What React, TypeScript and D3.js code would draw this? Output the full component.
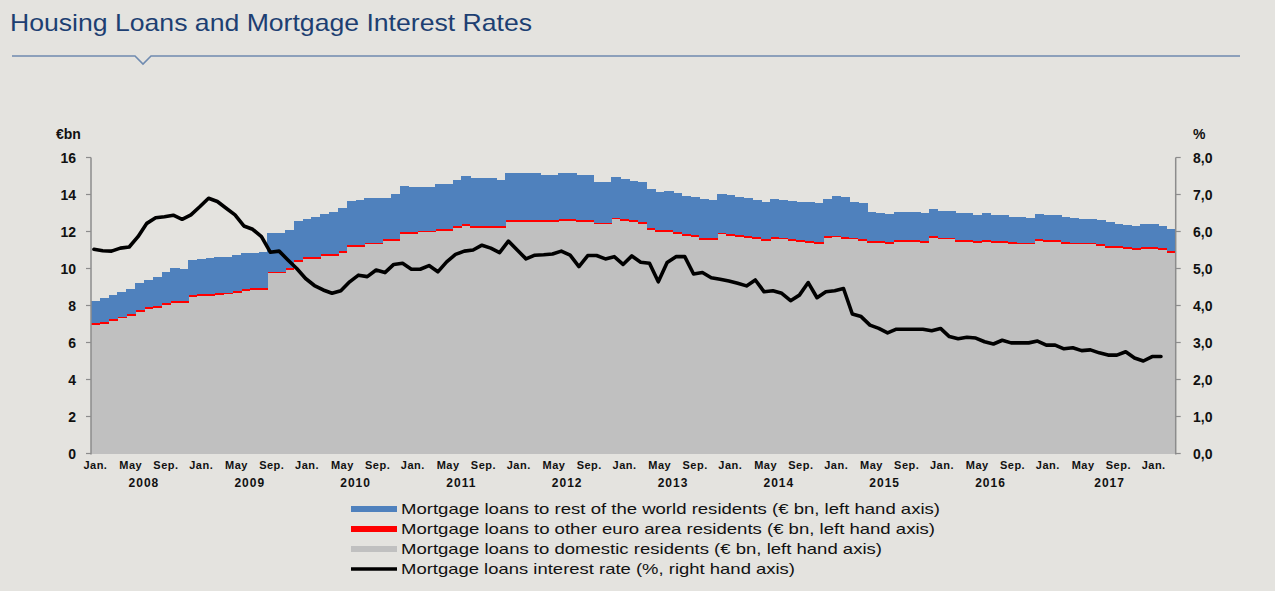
import React from 'react';
import * as d3 from 'd3';

// Monthly data, Jan 2008 – Mar 2018 (€bn)
const domestic = [
  6.97, 7.02, 7.15, 7.30, 7.44, 7.66, 7.80, 7.89, 8.02, 8.13,
  8.13, 8.47, 8.50, 8.53, 8.57, 8.60, 8.70, 8.77, 8.82, 8.86,
  9.73, 9.73, 9.91, 10.36, 10.50, 10.50, 10.67, 10.67, 10.85, 11.17,
  11.17, 11.30, 11.30, 11.48, 11.48, 11.89, 11.89, 11.95, 11.95, 12.02,
  12.02, 12.20, 12.29, 12.20, 12.20, 12.20, 12.20, 12.52, 12.52, 12.52,
  12.52, 12.52, 12.52, 12.58, 12.58, 12.52, 12.52, 12.38, 12.38, 12.65,
  12.58, 12.52, 12.43, 12.07, 11.98, 11.98, 11.89, 11.76, 11.71, 11.53,
  11.53, 11.84, 11.76, 11.71, 11.66, 11.60, 11.50, 11.62, 11.57, 11.50,
  11.45, 11.40, 11.31, 11.66, 11.68, 11.62, 11.57, 11.50, 11.40, 11.40,
  11.33, 11.44, 11.44, 11.44, 11.38, 11.64, 11.57, 11.57, 11.44, 11.44,
  11.38, 11.44, 11.38, 11.38, 11.33, 11.30, 11.30, 11.48, 11.44, 11.44,
  11.35, 11.30, 11.30, 11.30, 11.22, 11.12, 11.12, 11.04, 10.99, 11.04,
  11.04, 10.99, 10.85,
];

const otherEuro = [
  0.10, 0.10, 0.10, 0.10, 0.10, 0.12, 0.10, 0.10, 0.10, 0.10,
  0.10, 0.10, 0.10, 0.10, 0.10, 0.10, 0.10, 0.10, 0.10, 0.10,
  0.10, 0.10, 0.10, 0.10, 0.10, 0.10, 0.10, 0.10, 0.10, 0.12,
  0.10, 0.10, 0.10, 0.10, 0.10, 0.10, 0.10, 0.10, 0.10, 0.10,
  0.10, 0.10, 0.10, 0.10, 0.10, 0.10, 0.10, 0.10, 0.10, 0.10,
  0.10, 0.10, 0.10, 0.10, 0.10, 0.10, 0.10, 0.10, 0.10, 0.10,
  0.10, 0.10, 0.10, 0.10, 0.10, 0.10, 0.10, 0.10, 0.10, 0.12,
  0.12, 0.10, 0.10, 0.10, 0.10, 0.10, 0.10, 0.10, 0.10, 0.10,
  0.10, 0.10, 0.12, 0.10, 0.10, 0.10, 0.10, 0.10, 0.10, 0.10,
  0.10, 0.10, 0.10, 0.10, 0.10, 0.10, 0.10, 0.10, 0.10, 0.10,
  0.10, 0.10, 0.10, 0.10, 0.10, 0.10, 0.10, 0.10, 0.10, 0.10,
  0.10, 0.10, 0.10, 0.10, 0.10, 0.10, 0.10, 0.10, 0.10, 0.10,
  0.10, 0.10, 0.12,
];

const restOfWorld = [
  1.19, 1.30, 1.32, 1.35, 1.35, 1.44, 1.48, 1.57, 1.67, 1.81,
  1.76, 1.89, 1.90, 1.92, 1.93, 1.94, 1.93, 1.95, 1.94, 1.95,
  2.11, 2.11, 2.07, 2.11, 2.08, 2.17, 2.18, 2.30, 2.30, 2.34,
  2.43, 2.43, 2.43, 2.25, 2.45, 2.47, 2.42, 2.36, 2.36, 2.45,
  2.45, 2.48, 2.61, 2.58, 2.58, 2.58, 2.48, 2.52, 2.52, 2.52,
  2.52, 2.43, 2.43, 2.46, 2.46, 2.43, 2.43, 2.18, 2.18, 2.18,
  2.14, 2.13, 2.13, 2.11, 2.07, 2.12, 2.07, 2.08, 2.07, 2.13,
  2.04, 2.09, 2.14, 2.07, 2.07, 2.00, 2.01, 2.04, 2.03, 2.07,
  2.06, 2.08, 2.11, 2.00, 2.16, 2.13, 1.91, 1.92, 1.57, 1.52,
  1.52, 1.50, 1.50, 1.50, 1.51, 1.48, 1.44, 1.44, 1.44, 1.44,
  1.41, 1.45, 1.41, 1.41, 1.37, 1.40, 1.35, 1.37, 1.34, 1.34,
  1.35, 1.31, 1.28, 1.28, 1.30, 1.28, 1.21, 1.21, 1.21, 1.25,
  1.25, 1.23, 1.17,
];

// Interest rate (%), Jan 2008 – Feb 2018
const interestRate = [
  5.52, 5.48, 5.47, 5.55, 5.58, 5.86, 6.22, 6.37, 6.40, 6.44,
  6.33, 6.45, 6.67, 6.90, 6.81, 6.63, 6.45, 6.15, 6.06, 5.86,
  5.44, 5.47, 5.23, 5.00, 4.73, 4.54, 4.42, 4.33, 4.40, 4.64,
  4.82, 4.78, 4.96, 4.89, 5.11, 5.14, 4.98, 4.98, 5.08, 4.91,
  5.18, 5.38, 5.47, 5.50, 5.63, 5.55, 5.43, 5.74, 5.50, 5.26,
  5.36, 5.37, 5.39, 5.47, 5.36, 5.05, 5.35, 5.35, 5.26, 5.32,
  5.11, 5.34, 5.17, 5.14, 4.64, 5.16, 5.32, 5.32, 4.85, 4.89,
  4.75, 4.71, 4.66, 4.60, 4.53, 4.69, 4.37, 4.40, 4.33, 4.13,
  4.28, 4.62, 4.21, 4.37, 4.40, 4.46, 3.77, 3.70, 3.47, 3.38,
  3.26, 3.36, 3.36, 3.36, 3.36, 3.32, 3.38, 3.16, 3.10, 3.14,
  3.12, 3.02, 2.96, 3.06, 2.99, 2.99, 2.99, 3.04, 2.93, 2.93,
  2.83, 2.86, 2.78, 2.80, 2.72, 2.66, 2.66, 2.75, 2.58, 2.50,
  2.62, 2.62,
];

const leftTicks = [0, 2, 4, 6, 8, 10, 12, 14, 16];
const rightTicks = [0, 1, 2, 3, 4, 5, 6, 7, 8];
const monthTickNames: Record<number, string> = { 0: 'Jan.', 4: 'May', 8: 'Sep.' };
const years = [2008, 2009, 2010, 2011, 2012, 2013, 2014, 2015, 2016, 2017];
const startYear = 2008;

const seriesKeys = ['domestic', 'otherEuro', 'restOfWorld'];
const seriesColors: Record<string, string> = {
  domestic: '#c0c0c0',
  otherEuro: '#ff0000',
  restOfWorld: '#4f81bd',
};

const legendItems = [
  { label: 'Mortgage loans to rest of the world residents (€ bn, left hand axis)', color: '#4f81bd', kind: 'area', len: 539 },
  { label: 'Mortgage loans to other euro area residents (€ bn, left hand axis)', color: '#ff0000', kind: 'area', len: 534 },
  { label: 'Mortgage loans to domestic residents (€ bn, left hand axis)', color: '#c0c0c0', kind: 'area', len: 481 },
  { label: 'Mortgage loans interest rate (%, right hand axis)', color: '#000000', kind: 'line', len: 394 },
];

const FONT = '"Liberation Sans", Arial, Helvetica, sans-serif';

export default function App() {
  const W = 1275;
  const H = 591;
  const x0 = 91;
  const x1 = 1175.7;
  const yTop = 157.5;
  const yBot = 453.5;

  const n = domestic.length;
  const x = d3.scaleBand<number>().domain(d3.range(n)).range([x0, x1]).padding(0);
  const bw = x.bandwidth();
  const yL = d3.scaleLinear().domain([0, 16]).range([yBot, yTop]);
  const yR = d3.scaleLinear().domain([0, 8]).range([yBot, yTop]);

  const rows = domestic.map((d, i) => ({
    domestic: d,
    otherEuro: otherEuro[i],
    restOfWorld: restOfWorld[i],
  }));
  const stacked = d3.stack<any>().keys(seriesKeys)(rows);

  const line = d3
    .line<number>()
    .x((_, i) => (x(i) as number) + bw / 2 - 1.5)
    .y((d) => yR(d))
    .curve(d3.curveLinear);

  const axisColor = '#8c8c8c';
  const fmtR = (v: number) => v.toFixed(1).replace('.', ',');

  const monthLabels: { i: number; t: string }[] = [];
  for (let i = 0; i < n; i++) {
    const m = i % 12;
    if (monthTickNames[m] !== undefined) monthLabels.push({ i, t: monthTickNames[m] });
  }

  const yearLabels = years.map((yr, k) => {
    const s = (yr - startYear) * 12;
    const e = k === years.length - 1 ? n : s + 12;
    const cx = ((x(s) as number) + (x(e - 1) as number) + bw) / 2;
    return { yr, cx };
  });

  return (
    <svg
      width={W}
      height={H}
      viewBox={`0 0 ${W} ${H}`}
      style={{ position: 'absolute', left: 0, top: 0, display: 'block' }}
      fontFamily={FONT}
    >
      <rect x={0} y={0} width={W} height={H} fill="#e4e3df" />

      {/* Title */}
      <text x={10} y={31} fontSize={24} fill="#1d3f72" textLength={522} lengthAdjust="spacingAndGlyphs">
        Housing Loans and Mortgage Interest Rates
      </text>
      <path
        d="M12,56 L135,56 L143,64 L151,56 L1240,56"
        fill="none"
        stroke="#6f8bb0"
        strokeWidth={1.6}
      />

      {/* bottom axis line (under bars) */}
      <line x1={x0} x2={x1} y1={yBot} y2={yBot} stroke={axisColor} strokeWidth={1.2} />

      {/* Stacked bars */}
      <g shapeRendering="crispEdges">
        {stacked.map((s) => (
          <g key={s.key} fill={seriesColors[s.key]}>
            {s.map((d, i) => (
              <rect
                key={i}
                x={x(i) as number}
                width={bw + 0.6}
                y={yL(d[1])}
                height={Math.max(0, yL(d[0]) - yL(d[1]))}
              />
            ))}
          </g>
        ))}
      </g>

      {/* Interest rate line */}
      <path
        d={line(interestRate) || ''}
        fill="none"
        stroke="#000"
        strokeWidth={3.6}
        strokeLinejoin="round"
        strokeLinecap="round"
      />

      {/* Left axis */}
      <line x1={x0} x2={x0} y1={yTop} y2={yBot + 1} stroke={axisColor} strokeWidth={1.5} />
      {leftTicks.map((t) => (
        <g key={`l${t}`}>
          <line x1={x0 - 5} x2={x0} y1={yL(t)} y2={yL(t)} stroke={axisColor} strokeWidth={1.2} />
          <text x={76} y={yL(t) + 5} fontSize={14} fontWeight="bold" textAnchor="end" fill="#111">
            {t}
          </text>
        </g>
      ))}
      <text x={56} y={139} fontSize={14} fontWeight="bold" fill="#111">€bn</text>

      {/* Right axis */}
      <line x1={x1} x2={x1} y1={yTop} y2={yBot + 1} stroke={axisColor} strokeWidth={1.5} />
      {rightTicks.map((t) => (
        <g key={`r${t}`}>
          <line x1={x1} x2={x1 + 5} y1={yR(t)} y2={yR(t)} stroke={axisColor} strokeWidth={1.2} />
          <text x={1193} y={yR(t) + 5} fontSize={14} fontWeight="bold" textAnchor="start" fill="#111">
            {fmtR(t)}
          </text>
        </g>
      ))}
      <text x={1193} y={139} fontSize={14} fontWeight="bold" fill="#111">%</text>

      {/* X labels */}
      {monthLabels.map(({ i, t }) => (
        <text
          key={`m${i}`}
          x={(x(i) as number) + bw / 2}
          y={469}
          fontSize={11}
          fontWeight="bold"
          letterSpacing={0.5}
          textAnchor="middle"
          fill="#111"
        >
          {t}
        </text>
      ))}
      {yearLabels.map(({ yr, cx }) => (
        <text
          key={`y${yr}`}
          x={cx}
          y={487}
          fontSize={12}
          fontWeight="bold"
          letterSpacing={1}
          textAnchor="middle"
          fill="#111"
        >
          {yr}
        </text>
      ))}

      {/* Legend */}
      {legendItems.map((item, k) => {
        const cy = 509 + k * 20;
        return (
          <g key={`lg${k}`}>
            {item.kind === 'area' ? (
              <rect x={351} y={cy - 3} width={46} height={6} fill={item.color} />
            ) : (
              <line x1={351} x2={397} y1={cy} y2={cy} stroke={item.color} strokeWidth={3.5} />
            )}
            <text
              x={401}
              y={cy + 5}
              fontSize={15}
              fill="#111"
              textLength={item.len}
              lengthAdjust="spacingAndGlyphs"
            >
              {item.label}
            </text>
          </g>
        );
      })}
    </svg>
  );
}
